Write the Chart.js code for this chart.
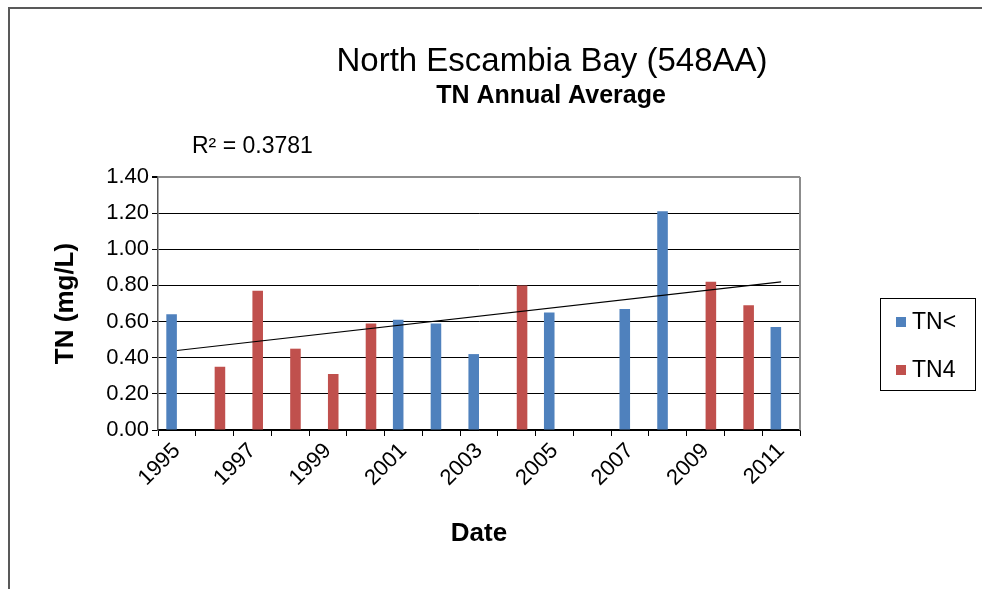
<!DOCTYPE html>
<html>
<head>
<meta charset="utf-8">
<script src="https://cdn.jsdelivr.net/npm/chart.js@4.4.0/dist/chart.umd.min.js"></script>
<style>
body { margin: 0; background: #fff; }
</style>
</head>
<body>
<canvas id="myChart" width="982" height="589"></canvas>
<script>
// data
var years = ['1995', '1996', '1997', '1998', '1999', '2000', '2001', '2002', '2003',
             '2004', '2005', '2006', '2007', '2008', '2009', '2010', '2011'];
var tnLess = [0.64, null, null, null, null, null, 0.61, 0.59, 0.42,
              null, 0.65, null, 0.67, 1.21, null, null, 0.57];
var tn4 = [null, 0.35, 0.77, 0.45, 0.31, 0.59, null, null, null,
           0.80, null, null, null, null, 0.82, 0.69, null];
// linear trendline, only its two ends are known
var trend = [0.44, null, null, null, null, null, null, null, null,
             null, null, null, null, null, null, null, 0.82];
var seriesNames = ['TN<', 'TN4'];
var seriesColors = ['#4F81BD', '#C0504D'];
var yMin = 0, yMax = 1.4, yStep = 0.2;
var xLabelStep = 2;
var titleText = 'North Escambia Bay (548AA)';
var subtitleText = 'TN Annual Average';
var rSquaredText = 'R\u00B2 = 0.3781';

var FONT = '"Liberation Sans", Arial, sans-serif';
Chart.defaults.font.family = FONT;
Chart.defaults.color = '#000';

// titles, R², frame and legend box (Excel look)
var decorations = {
    id: 'decorations',
    beforeDraw: function (chart) {
        var ctx = chart.ctx;
        ctx.save();
        ctx.fillStyle = '#fff';
        ctx.fillRect(0, 0, chart.width, chart.height);
        ctx.restore();
    },
    afterDraw: function (chart) {
        var ctx = chart.ctx, a = chart.chartArea;
        ctx.save();
        // outer chart border, cut at right and bottom
        ctx.strokeStyle = '#595959';
        ctx.lineWidth = 2;
        ctx.beginPath();
        ctx.moveTo(9, chart.height);
        ctx.lineTo(9, 8);
        ctx.lineTo(chart.width, 8);
        ctx.stroke();

        // right side of plot area
        ctx.strokeStyle = '#8c8c8c';
        ctx.beginPath();
        ctx.moveTo(a.right, a.top);
        ctx.lineTo(a.right, a.bottom);
        ctx.stroke();

        ctx.fillStyle = '#000';
        ctx.textBaseline = 'middle';
        ctx.textAlign = 'center';
        ctx.font = '33px ' + FONT;
        ctx.fillText(titleText, 552, 62);
        ctx.font = 'bold 25px ' + FONT;
        ctx.fillText(subtitleText, 551, 96);

        ctx.textAlign = 'left';
        ctx.font = '23px ' + FONT;
        ctx.fillText(rSquaredText, 192, 147);

        // legend
        ctx.strokeStyle = '#000';
        ctx.lineWidth = 1;
        ctx.strokeRect(880.5, 298.5, 95, 92);
        ctx.font = '23px ' + FONT;
        for (var i = 0; i < seriesNames.length; i++) {
            var y = 322 + i * 48;
            ctx.fillStyle = seriesColors[i];
            ctx.fillRect(896, y - 5, 10, 10);
            ctx.fillStyle = '#000';
            ctx.fillText(seriesNames[i], 912, y + 1);
        }
        ctx.restore();
    }
};

var ctx = document.getElementById('myChart').getContext('2d');
var myChart = new Chart(ctx, {
    type: 'bar',
    data: {
        labels: years,
        datasets: [{
            type: 'line',
            label: 'Trend',
            data: trend,
            borderColor: '#000',
            borderWidth: 1.2,
            pointRadius: 0,
            spanGaps: true,
            order: 0
        }, {
            label: seriesNames[0],
            data: tnLess,
            backgroundColor: seriesColors[0],
            order: 1
        }, {
            label: seriesNames[1],
            data: tn4,
            backgroundColor: seriesColors[1],
            order: 1
        }]
    },
    options: {
        responsive: false,
        animation: false,
        categoryPercentage: 0.56,
        barPercentage: 1.0,
        layout: { padding: { top: 177, right: 182, bottom: 0, left: 20 } },
        plugins: {
            legend: { display: false },
            tooltip: { enabled: false }
        },
        scales: {
            x: {
                grid: { offset: true, drawOnChartArea: false, tickLength: 6, color: '#000' },
                border: { color: '#000', width: 1.5 },
                ticks: {
                    autoSkip: false,
                    minRotation: 45,
                    maxRotation: 45,
                    padding: 2,
                    font: { size: 22 },
                    callback: function (v, i) {
                        return i % xLabelStep === 0 ? this.getLabelForValue(v) : '';
                    }
                },
                title: {
                    display: true,
                    text: 'Date',
                    font: { size: 26, weight: 'bold' },
                    padding: { top: 0, bottom: 40 }
                },
                afterFit: function (s) { s.height = 159; }
            },
            y: {
                min: yMin,
                max: yMax,
                grid: {
                    tickLength: 6,
                    tickColor: '#000',
                    color: function (c) {
                        return c.tick && c.tick.value > yMax - 1e-6 ? '#8c8c8c' : '#000';
                    },
                    lineWidth: function (c) {
                        return c.tick && c.tick.value > yMax - 1e-6 ? 2 : 1;
                    }
                },
                border: { color: '#555', width: 1.5 },
                ticks: {
                    stepSize: yStep,
                    padding: 3,
                    font: { size: 22 },
                    callback: function (v) { return v.toFixed(2); }
                },
                title: {
                    display: true,
                    text: 'TN (mg/L)',
                    font: { size: 26, weight: 'bold' },
                    padding: { top: 30, bottom: 0 }
                },
                afterFit: function (s) { s.width = 138; }
            }
        }
    },
    plugins: [decorations]
});
</script>
</body>
</html>
